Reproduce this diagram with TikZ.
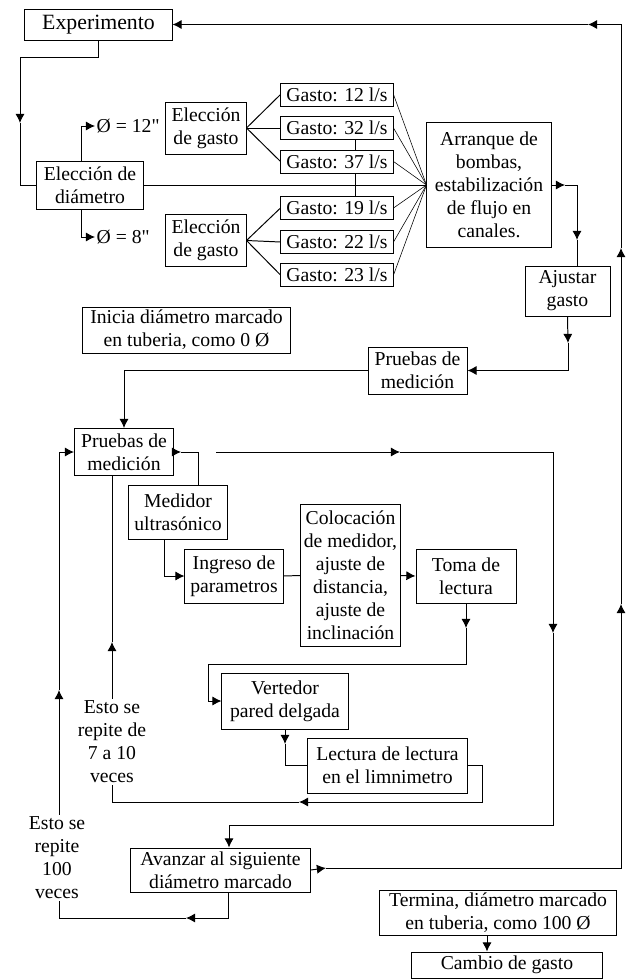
\documentclass[tikz,border=0pt]{standalone}
\usepackage{fontspec}
\setmainfont{Liberation Serif}
\newfontfamily\plainfont{Liberation Serif}
\usetikzlibrary{arrows.meta,positioning}
\newcommand{\flowfont}{\fontsize{14}{16.4}\selectfont}

\begin{document}
\begin{tikzpicture}[x=0.025cm,y=-0.025cm,
  box/.style 2 args={rectangle,draw,line width=0.7pt,inner sep=0pt,align=center,
                     minimum width=#1cm,minimum height=#2cm,font=\flowfont},
  gbox/.style={box={2.8}{0.575}},
  lbl/.style={inner sep=1pt,align=center,font=\flowfont},
  ln/.style={line width=0.7pt},
  arr/.style={ln,-{Latex[length=6.5pt,width=6.5pt]}},
  thinln/.style={line width=0.4pt}
]
  \useasboundingbox (0,0) rectangle (633,979);
  \node[box={3.675}{0.775},font=\fontsize{15.5}{18}\selectfont](exp) at (98.5,24.5) {Experimento};
  \node[box={2.65}{1.2}](diam) at (90,185) {Elección de\\diámetro};
  \node[lbl,anchor=west,font=\flowfont\plainfont](d12) at (95,126) {Ø = 12"};
  \node[lbl,anchor=west,font=\flowfont\plainfont](d8) at (95,237) {Ø = 8"};
  \node[box={2.0}{1.3}](eg1) at (206,128) {Elección\\de gasto};
  \node[box={2.0}{1.3}](eg2) at (206,240.5) {Elección\\de gasto};
  \foreach \n/\y/\q in {g12/94.5/12,g32/128/32,g37/161.5/37,g19/208/19,g22/242/22,g23/275/23}{
    \node[gbox](\n) at (337,\y) {Gasto: \q\ l/s};
  }
  \node[box={3.1}{3.1}](arrq) at (489,185) {Arranque de\\bombas,\\estabilización\\de flujo en\\canales.};
  \node[box={2.125}{1.25}](ajus) at (567.5,291) {Ajustar\\gasto};
  \node[box={5.175}{1.15}](inicia) at (186.5,330) {Inicia diámetro marcado\\en tuberia, como 0 Ø};
  \node[box={2.475}{1.175}](pm1) at (417.5,370.5) {Pruebas de\\medición};
  \node[box={2.475}{1.175}](pm2) at (124,452) {Pruebas de\\medición};
  \node[box={2.45}{1.35}](med) at (178,512) {Medidor\\ultrasónico};
  \node[box={2.45}{1.35}](ing) at (234,576) {Ingreso de\\parametros};
  \node[box={2.475}{3.525}](col) at (350.5,575.5) {Colocación\\de medidor,\\ajuste de\\distancia,\\ajuste de\\inclinación};
  \node[box={2.5}{1.35}](toma) at (466,576) {Toma de\\lectura};
  \node[box={3.15}{1.4}](vert) at (285,701) {Vertedor\\pared delgada};
  \node[box={3.975}{1.375}](lect) at (387.5,765.5) {Lectura de lectura\\en el limnimetro};
  \node[box={4.475}{1.1}](avan) at (220.5,870) {Avanzar al siguiente\\diámetro marcado};
  \node[box={5.9}{1.125}](term) at (498,912.5) {Termina, diámetro marcado\\en tuberia, como 100 Ø};
  \node[box={4.75}{0.65}](camb) at (507,965) {Cambio de gasto};

  % choice of diameter and flow
  \coordinate (t1) at (20,123);
  \draw[arr](exp.south) |- (20,57) -- (t1);
  \draw[ln](t1) |- (diam.west);
  \draw[arr]([xshift=-0.225cm]diam.north) |- (d12.west);
  \draw[arr]([xshift=-0.225cm]diam.south) |- (d8.west);
  \draw[ln](diam.east) -- (arrq.west);
  \foreach \g in {g12,g32,g37}{\draw[ln](eg1.east) -- (\g.west);}
  \foreach \g in {g19,g22,g23}{\draw[ln](eg2.east) -- (\g.west);}
  \draw[ln]([xshift=0.45cm]g32.south) -- ([xshift=0.45cm]g37.north);
  \draw[ln]([xshift=0.45cm]g37.south) -- ([xshift=0.45cm]g19.north);
  \foreach \g in {g12,g32,g37,g19,g22,g23}{\draw[thinln](\g.east) -- (arrq.west);}

  \coordinate (t2) at (565,185);
  \coordinate (t3) at (577,240);
  \draw[arr](arrq.east) -- (t2);
  \draw[arr](t2) -| (t3);
  \draw[ln](t3) -- (t3 |- ajus.north);
  \coordinate (t4) at (568,343);
  \draw[arr](ajus.south) -- (t4);
  \draw[arr](t4) |- (pm1.east);
  \draw[arr](pm1.west) -| (pm2.north);

  % measurement loop
  \coordinate (t5) at (181,452);
  \draw[arr](pm2.east) -- (t5);
  \draw[ln](t5) -| ([xshift=0.5cm]med.north);
  \coordinate (s1) at (216,452);
  \coordinate (t6) at (400,452);
  \coordinate (t7) at (553,633);
  \coordinate (c8) at (229,825);
  \draw[arr](s1) -- (t6);
  \draw[arr](t6) -| (t7);
  \draw[arr](t7) |- (c8) -- (c8 |- avan.north);
  \draw[arr]([xshift=-0.35cm]med.south) |- (ing.west);
  \draw[ln](ing.east) -- (col.west);
  \draw[arr](col.east) -- (toma.west);
  \coordinate (t9) at (466,628);
  \draw[arr](toma.south) -- (t9);
  \draw[arr](t9) |- (208,664) |- (vert.west);
  \coordinate (t10) at (285,744);
  \draw[arr](vert.south) -- (t10);
  \draw[ln](t10) |- (lect.west);
  \coordinate (t11) at (299,802);
  \coordinate (t12) at (112,642);
  \draw[arr](lect.east) -| (482,802) -- (t11);
  \draw[arr](t11) -| (t12);
  \draw[ln](t12) -- (t12 |- pm2.south);

  % outer loop
  \coordinate (t13) at (326,868);
  \coordinate (t14) at (621,604);
  \coordinate (t15) at (621,248);
  \coordinate (t16) at (588,24.5);
  \draw[arr](avan.east) -- (t13);
  \draw[arr](t13) -| (t14);
  \draw[arr](t14) -- (t15);
  \draw[arr](t15) |- (t16);
  \draw[arr](t16) -- (exp.east);
  \coordinate (t17) at (186,918);
  \coordinate (t18) at (59,690);
  \draw[arr]([xshift=0.2cm]avan.south) |- (t17);
  \draw[arr](t17) -| (t18);
  \draw[arr](t18) |- (pm2.west);
  \draw[arr]([xshift=-0.275cm]term.south) -- ([xshift=-0.275cm]term.south |- camb.north);

  \node[lbl,fill=white](rep1) at (112,742) {Esto se\\repite de\\7 a 10\\veces};
  \node[lbl,fill=white](rep2) at (57,858) {Esto se\\repite\\100\\veces};
\end{tikzpicture}
\end{document}
